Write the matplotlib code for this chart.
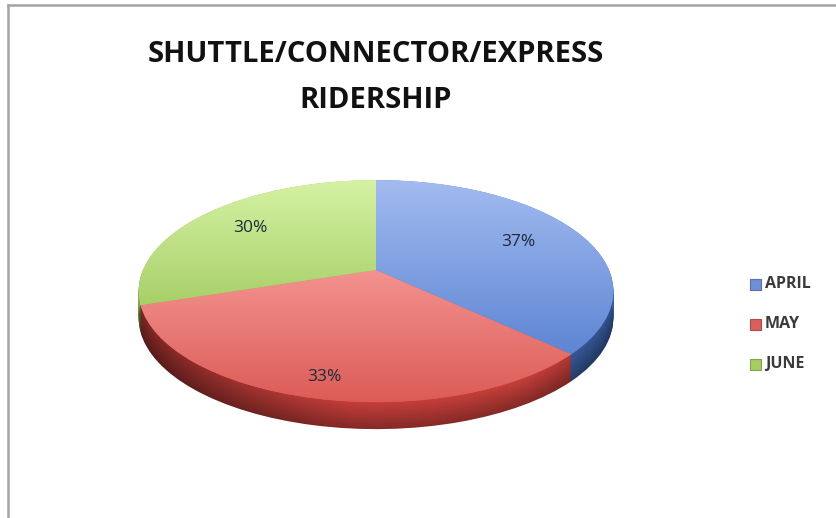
import numpy as np
import matplotlib.pyplot as plt
from matplotlib.transforms import Transform
from matplotlib.colors import to_rgb
from matplotlib.patches import Polygon

# data
months = ["APRIL", "MAY", "JUNE"]
shares = [37, 33, 30]
title_lines = ["SHUTTLE/CONNECTOR/EXPRESS", "RIDERSHIP"]

# styling
top_light = ["#a3bcf0", "#f49692", "#d6f2a4"]
top_dark = ["#5a82d2", "#dc5a56", "#a2cc62"]
side_colors = ["#3d62a8", "#c43e3a", "#8cb24a"]
legend_colors = ["#6f8fd6", "#d8605c", "#a6cc66"]
label_radius = [0.70, 0.86, 0.72]

W, H = 836, 518
fig = plt.figure(figsize=(W / 100, H / 100), dpi=100)
ax = fig.add_axes([0, 0, 1, 1])

# pie geometry in pixel space (y up), simple perspective of a unit disk
cx, cy = 376, H - 270
sx, sy, persp = 233, 107, 0.19
depth = 27

fonts = ["Open Sans", "DejaVu Sans"]


class Tilt(Transform):
    input_dims = output_dims = 2
    is_separable = False
    has_inverse = False

    def __init__(self, drop=0):
        super().__init__()
        self.drop = drop

    def transform_non_affine(self, values):
        values = np.asarray(values, dtype=float)
        u, v = values[:, 0], values[:, 1]
        d = 1 + persp * v
        return np.column_stack([cx + sx * u / d, cy + sy * v / d - self.drop])


def shade(c, f):
    r, g, b = to_rgb(c)
    return (r * f, g * f, b * f)


def gradient_image(c0, c1, x0, x1, ytop, ybot, clip, z, horizontal=False):
    t = np.linspace(0, 1, 200)
    cols = (1 - t)[:, None] * np.array(to_rgb(c0)) + t[:, None] * np.array(to_rgb(c1))
    img = cols[:, None, :] if not horizontal else cols[None, :, :]
    im = ax.imshow(img, extent=(x0, x1, H - ybot, H - ytop), origin="upper",
                   aspect="auto", interpolation="bilinear", zorder=z)
    im.set_clip_path(clip)
    return im


# side: stack of pies pushed down, darker further down
for k in range(depth, 0, -1):
    f = 1.0 - 0.32 * (k - 1) / (depth - 1)
    wedges, _ = ax.pie(shares, colors=[shade(c, f) for c in side_colors],
                       startangle=90, counterclock=False, radius=1, frame=True)
    tr = Tilt(k) + ax.transData
    for w in wedges:
        w.set_transform(tr)
        w.set_linewidth(0)
        w.set_zorder(1)

# darken the ends of the side band
th = np.linspace(np.pi, 2 * np.pi, 120)
ring = np.column_stack([np.cos(th), np.sin(th)])
upper = Tilt(0).transform(ring)
lower = Tilt(depth).transform(ring)[::-1]
band = Polygon(np.vstack([upper, lower]), closed=True, transform=ax.transData,
               facecolor="none", edgecolor="none")
ax.add_patch(band)
t = np.linspace(0, 1, 300)
alpha = np.interp(t, [0, 0.45, 0.8, 1], [0.38, 0.0, 0.0, 0.2])
dark = np.zeros((1, 300, 4))
dark[0, :, 3] = alpha
im = ax.imshow(dark, extent=(130, 625, 0, H), origin="upper", aspect="auto",
               interpolation="bilinear", zorder=2)
im.set_clip_path(band)

# top surface
wedges, _ = ax.pie(shares, colors=top_dark, startangle=90, counterclock=False,
                   radius=1, frame=True)
tr = Tilt(0) + ax.transData
ranges = [(178, 365), (262, 405), (178, 320)]
for w, c0, c1, (y0, y1) in zip(wedges, top_light, top_dark, ranges):
    w.set_transform(tr)
    w.set_linewidth(0)
    w.set_zorder(3)
    gradient_image(c0, c1, 130, 625, y0, y1, w, 4)

# percent labels
ang0 = 90.0
lab_tr = Tilt(0)
for s, lr in zip(shares, label_radius):
    mid = np.deg2rad(ang0 - s * 3.6 / 2)
    ang0 -= s * 3.6
    lx, ly = lab_tr.transform([[lr * np.cos(mid), lr * np.sin(mid)]])[0]
    ax.text(lx, ly, f"{s}%", ha="center", va="center", fontsize=12.5,
            color="#1e2a3a", family=fonts, zorder=5)

# title
ax.text(376, H - 55, title_lines[0], ha="center", va="center", fontsize=21,
        fontweight="bold", family=fonts, color="#111111")
ax.text(376, H - 100, title_lines[1], ha="center", va="center", fontsize=21,
        fontweight="bold", family=fonts, color="#111111")

# legend
for i, (m, c) in enumerate(zip(months, legend_colors)):
    ly = H - (284 + 40 * i)
    ax.add_patch(plt.Rectangle((750, ly - 5.5), 11, 11, facecolor=c,
                               edgecolor=shade(c, 0.8), linewidth=0.8, zorder=5))
    ax.text(765, ly, m, ha="left", va="center", fontsize=11.5, fontweight="bold",
            color="#3a3a3a", family=fonts, zorder=5)

# frame lines on left and top
ax.plot([8, 8], [0, H - 5], color="#a4a4a4", linewidth=1.8, zorder=6)
ax.plot([8, W], [H - 5, H - 5], color="#a4a4a4", linewidth=1.8, zorder=6)

ax.set_xlim(0, W)
ax.set_ylim(0, H)
ax.set_aspect("auto")
ax.axis("off")

fig.savefig("out.png", dpi=100)
